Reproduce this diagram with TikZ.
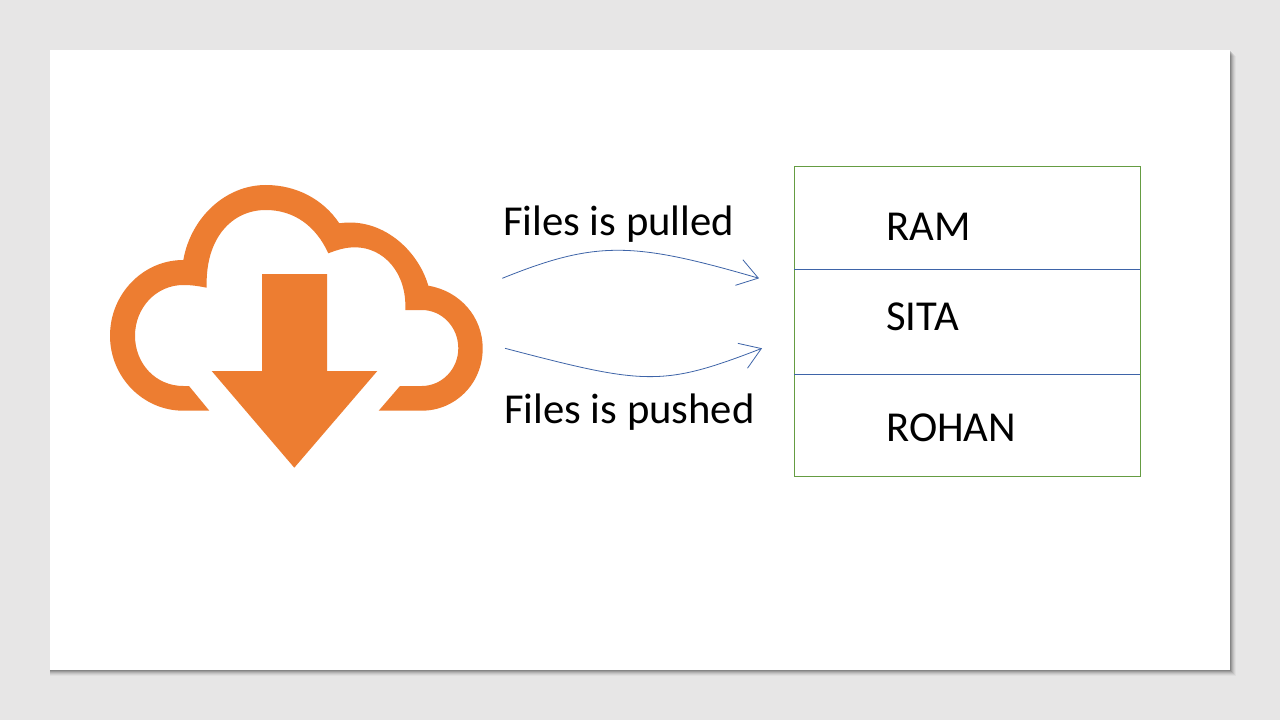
\documentclass[tikz,border=0pt]{standalone}
\usepackage{fontspec}
\setmainfont{Carlito}
\usetikzlibrary{arrows.meta}
\definecolor{slidebg}{HTML}{E7E6E6}
\definecolor{cloudorange}{HTML}{ED7D31}
\definecolor{boxgreen}{HTML}{659C42}
\definecolor{linkblue}{HTML}{3E64A8}
\tikzset{
  x=0.75pt,y=-0.75pt,
  rowbox/.style={draw=boxgreen,line width=0.55pt,minimum width=259.5pt,inner sep=0pt,anchor=north west},
  rowlabel/.style={font=\fontsize{32}{38}\selectfont,text=black,anchor=base west,inner sep=0pt},
  linklabel/.style={font=\fontsize{32}{38}\selectfont,text=black,anchor=base west,inner sep=0pt},
  linkcurve/.style={draw=linkblue,line width=0.6pt,-{Straight Barb[length=15pt,width=20pt,line width=0.6pt]}},
  divider/.style={draw=linkblue,line width=0.6pt}
}
\begin{document}
\begin{tikzpicture}
\useasboundingbox (0,0) rectangle (1280,720);
\fill[slidebg] (0,0) rectangle (1280,720);
% slide shadow
\foreach \d/\o in {6/0.03,5/0.05,4/0.07,3/0.09,2/0.12,1/0.14}{
  \fill[black,opacity=\o] (50,50+\d) rectangle (1230+\d,670+\d);
}
\fill[white] (50,50) rectangle (1230,670);
% cloud outline
\fill[cloudorange]
  (209.3,410.7) -- (183.3,410.7)
  .. controls (143,410.7) and (110,377) .. (110,335.7)
  .. controls (110,294) and (143,260) .. (183.3,260)
  .. controls (191,217) and (226,185) .. (265.7,185)
  .. controls (296,185) and (323,199) .. (339.3,223.3)
  .. controls (382,217) and (418,250) .. (428.3,285.7)
  .. controls (460,291) and (482.7,317) .. (482.7,348.3)
  .. controls (482.7,384) and (455,410.7) .. (421.7,410.7)
  -- (378.7,410.7) -- (400,386) -- (421.7,386)
  .. controls (442,386) and (458.3,369) .. (458.3,348.3)
  .. controls (458.3,327) and (442,310) .. (421.7,310)
  -- (405.3,310)
  .. controls (407,272) and (383,247.3) .. (355,247.3)
  .. controls (345,247.3) and (337,250) .. (328.3,253.3)
  .. controls (316,226) and (294,210) .. (265.7,210)
  .. controls (232,210) and (205,238) .. (206.7,287.7)
  .. controls (198,286) and (192,285) .. (183.3,285)
  .. controls (156,285) and (135,308) .. (135,335.7)
  .. controls (135,364) and (156,386) .. (183.3,386)
  -- (189,386) -- cycle;
% download arrow
\fill[cloudorange] (262,274) -- (327,274) -- (327,371) -- (377.3,371)
  -- (294.3,467.7) -- (211.7,371) -- (262,371) -- cycle;
% table rows
\node[rowbox,minimum height=232.5pt] (table) at (794,166) {};
\coordinate (d1l) at (794,269.5);
\coordinate (d1r) at (1140,269.5);
\coordinate (d2l) at (794,374.5);
\coordinate (d2r) at (1140,374.5);
\draw[divider] (d1l) -- (d1r);
\draw[divider] (d2l) -- (d2r);
\node[rowlabel] (ram) at (886,240) {RAM};
\node[rowlabel] (sita) at (886,330) {SITA};
\node[rowlabel] (rohan) at (886,441) {ROHAN};
% link labels
\node[linklabel] (pulled) at (503,236) {Files is pulled};
\node[linklabel] (pushed) at (504,423) {Files is pushed};
% link curves
\coordinate (pullstart) at (502.3,278.3);
\coordinate (pullend) at (759,278.3);
\coordinate (pushstart) at (505,348.3);
\coordinate (pushend) at (762,348.3);
\draw[linkcurve] (pullstart) .. controls (597,240) and (634,242) .. (pullend);
\draw[linkcurve] (pushstart) .. controls (645,385) and (662,387) .. (pushend);
\end{tikzpicture}
\end{document}
